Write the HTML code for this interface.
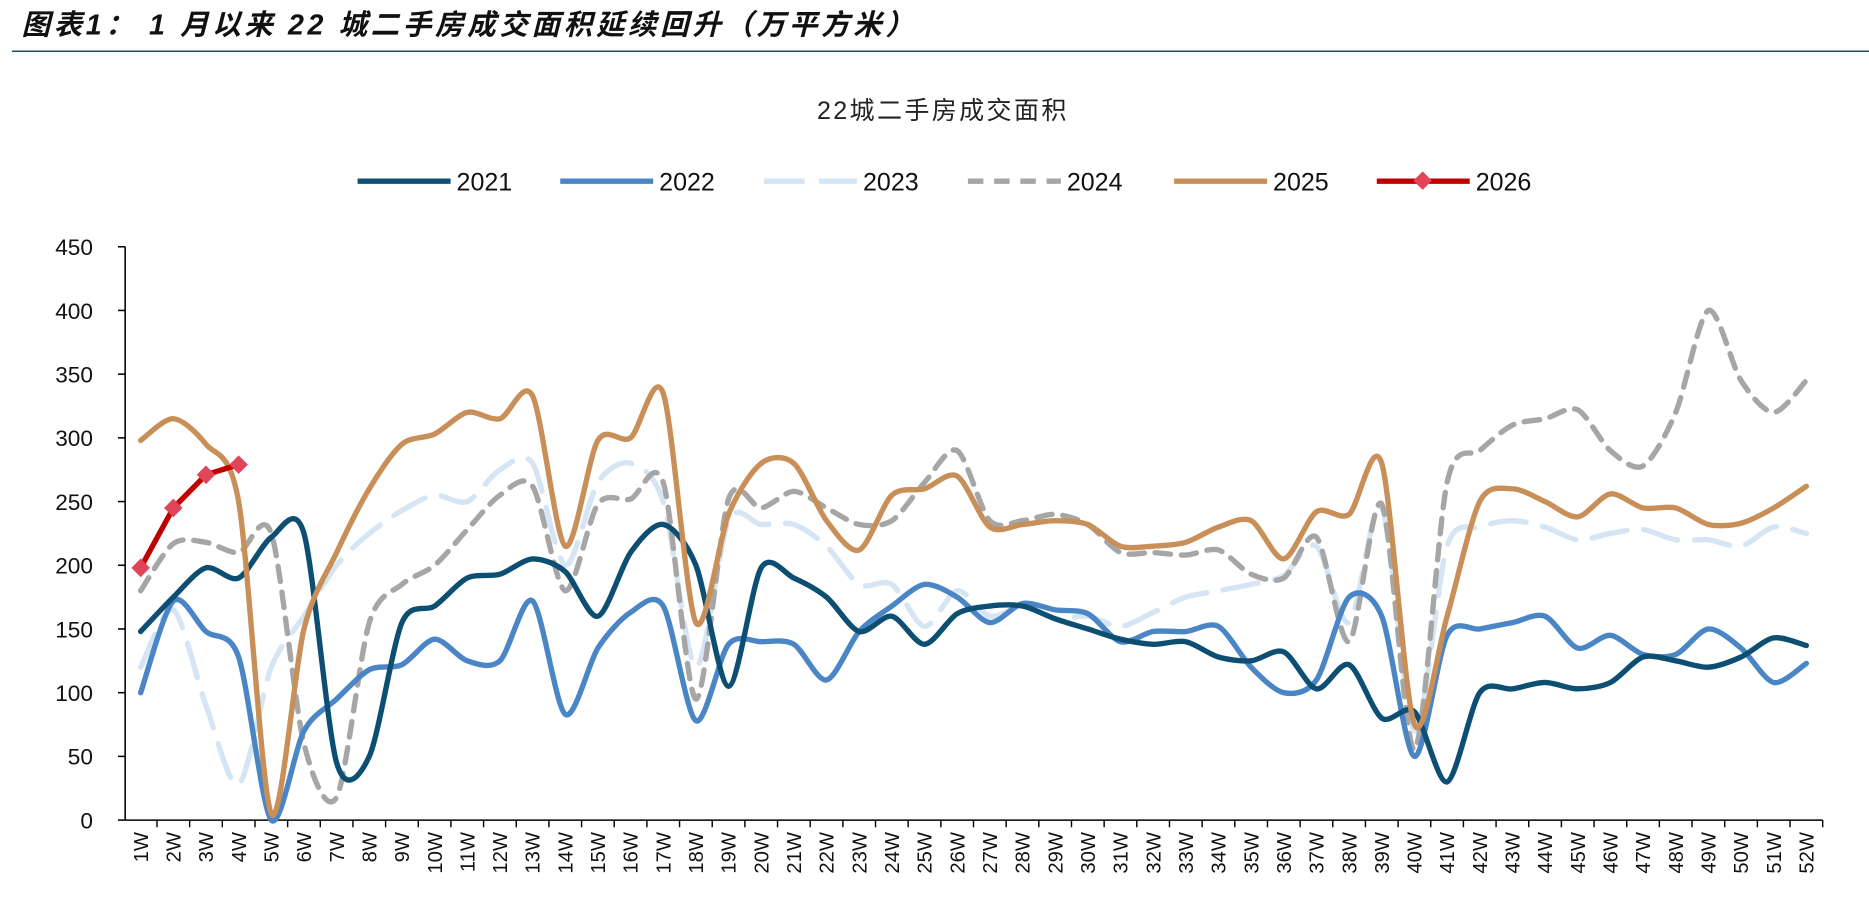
<!DOCTYPE html>
<html><head><meta charset="utf-8">
<style>
html,body{margin:0;padding:0;background:#fff;}
body{width:1869px;height:897px;overflow:hidden;position:relative;font-family:"Liberation Sans","Noto Sans CJK SC",sans-serif;}
</style></head>
<body>
<svg id="chart" width="1869" height="897" xmlns="http://www.w3.org/2000/svg" style="position:absolute;left:0;top:0">
<g transform="scale(1.192)">
<text x="18" y="29" font-size="24" letter-spacing="3" font-weight="bold" font-style="italic" fill="#111" font-family="Liberation Sans, Noto Sans CJK SC, sans-serif">图表1： 1 月以来 22 城二手房成交面积延续回升（万平方米）</text>
<line x1="10" y1="43" x2="1569" y2="43" stroke="#1f4e63" stroke-width="1.3"/>
<text x="791" y="100" font-size="21" letter-spacing="2" text-anchor="middle" fill="#222" font-family="Liberation Sans, Noto Sans CJK SC, sans-serif">22城二手房成交面积</text>
<g id="legend"></g>
<g id="axes"></g>
<g id="series"></g>
</g>
</svg>
<script>
const weeks = [];
for (let i = 1; i <= 52; i++) weeks.push(i + 'W');
const yTicks = [0, 50, 100, 150, 200, 250, 300, 350, 400, 450];
const seriesNames = ['2021','2022','2023','2024','2025','2026'];
const v2021 = [148,175,198,190,222,225,45,50,155,168,190,193,205,195,160,210,232,200,105,198,190,175,148,160,138,162,168,168,158,150,142,138,140,128,125,132,103,122,80,85,30,100,103,108,103,108,128,125,120,128,143,137];
const v2022 = [100,172,148,128,0,70,95,118,122,142,125,125,172,83,135,163,168,78,138,140,138,110,148,168,185,175,155,170,165,162,140,148,148,152,120,100,110,175,160,50,145,150,155,160,135,145,130,130,150,135,108,123];
const v2023 = [120,165,90,28,120,160,200,225,243,255,250,275,280,200,265,280,250,120,235,232,232,215,185,185,152,180,160,168,158,160,152,163,175,180,185,192,215,155,245,70,215,230,235,230,220,225,228,220,220,215,230,225];
const v2024 = [180,217,218,210,225,60,18,155,185,200,228,255,262,180,248,252,265,95,252,245,258,245,232,235,265,290,235,235,240,232,210,210,208,212,193,190,222,140,248,55,265,290,310,315,322,290,278,320,400,345,320,345];
const v2025 = [298,315,295,250,5,150,210,260,295,303,320,315,333,215,298,300,335,155,240,280,280,235,212,255,260,270,230,232,235,232,215,215,218,230,235,205,242,240,280,75,160,250,260,250,238,256,245,245,232,233,245,262];
const v2026 = [198,245,271,279];

const NS = 'http://www.w3.org/2000/svg';
const X0 = 118, DX = 27.4, Y0 = 688, YS = 481/450;
const xs = i => X0 + i * DX;
const ys = v => Y0 - v * YS;
function el(tag, attrs, parent) {
  const e = document.createElementNS(NS, tag);
  for (const k in attrs) e.setAttribute(k, attrs[k]);
  parent.appendChild(e);
  return e;
}
const axes = document.getElementById('axes');
const series = document.getElementById('series');
const legend = document.getElementById('legend');

const yAxis = el('line', {x1:105, y1:207, x2:105, y2:688, stroke:'#000', 'stroke-width':1.3}, axes);


yTicks.forEach(t => {
  const y = ys(t);
  el('line', {x1:99, y1:y, x2:105, y2:y, stroke:'#000', 'stroke-width':1.3}, axes);
  const tx = el('text', {x:78, y:y + 7, 'font-size':19, 'text-anchor':'end', fill:'#111'}, axes);
  
  
  tx.textContent = t;
});
const xAxis = el('line', {x1:105, y1:688, x2:1529, y2:688, stroke:'#000', 'stroke-width':1.3}, axes);


weeks.forEach((w, i) => {
  const x = xs(i);
  el('line', {x1:x + DX/2, y1:688, x2:x + DX/2, y2:694, stroke:'#000', 'stroke-width':1.2}, axes);
  const tx = el('text', {x:0, y:0, 'font-size':17, 'text-anchor':'end', fill:'#111', transform:'translate(' + (x + 6) + ',698) rotate(-90)'}, axes);
  
  
  tx.textContent = w;
});

function smoothPath(vals) {
  const p = vals.map((v, i) => [xs(i), ys(v)]);
  let d = 'M' + p[0][0] + ',' + p[0][1];
  for (let i = 0; i < p.length - 1; i++) {
    const p0 = p[Math.max(0, i - 1)], p1 = p[i], p2 = p[i + 1], p3 = p[Math.min(p.length - 1, i + 2)];
    const t = 1/7;
    const c1 = [p1[0] + (p2[0] - p0[0]) * t, p1[1] + (p2[1] - p0[1]) * t];
    const c2 = [p2[0] - (p3[0] - p1[0]) * t, p2[1] - (p3[1] - p1[1]) * t];
    d += ' C' + c1[0] + ',' + c1[1] + ' ' + c2[0] + ',' + c2[1] + ' ' + p2[0] + ',' + p2[1];
  }
  return d;
}
const styles = {
  '2021': {c:'#0d4f73', dash:null},
  '2022': {c:'#4a86c6', dash:null},
  '2023': {c:'#d5e5f4', dash:'30 14'},
  '2024': {c:'#a6a6a6', dash:'13 9'},
  '2025': {c:'#c98f58', dash:null},
  '2026': {c:'#c00000', dash:null}
};
const data = {'2021':v2021,'2022':v2022,'2023':v2023,'2024':v2024,'2025':v2025};
['2023','2024','2022','2021','2025'].forEach(n => {
  const s = styles[n];
  const a = {d:smoothPath(data[n]), fill:'none', stroke:s.c, 'stroke-width':4.5, 'stroke-linecap':'round', 'stroke-linejoin':'round'};
  if (s.dash) a['stroke-dasharray'] = s.dash;
  const path = el('path', a, series);
  
  
});
const pts26 = v2026.map((v, i) => xs(i) + ',' + ys(v)).join(' ');
const l26 = el('polyline', {points:pts26, fill:'none', stroke:'#c00000', 'stroke-width':4.5, 'stroke-linejoin':'round'}, series);


v2026.forEach((v, i) => {
  const x = xs(i), y = ys(v);
  const m = el('rect', {x:x - 5.5, y:y - 5.5, width:11, height:11, fill:'#e0455a', transform:'rotate(45 ' + x + ' ' + y + ')'}, series);
  
  
});

const legX = [300, 470, 641, 812, 985, 1155];
seriesNames.forEach((n, i) => {
  const s = styles[n];
  const x = legX[i];
  const a = {x1:x, y1:152, x2:x + 78, y2:152, stroke:s.c, 'stroke-width':4.5};
  if (s.dash) a['stroke-dasharray'] = n === '2023' ? '34 12' : '13 9';
  const ln = el('line', a, legend);
  
  
  if (n === '2026') {
    const mk = el('rect', {x:x + 33, y:146, width:11, height:11, fill:'#e0455a', transform:'rotate(45 ' + (x + 38.5) + ' 151.5)'}, legend);
    
    
  }
  const t = el('text', {x:x + 83, y:160, 'font-size':21, fill:'#111'}, legend);
  
  
  t.textContent = n;
});
</script>
</body></html>
